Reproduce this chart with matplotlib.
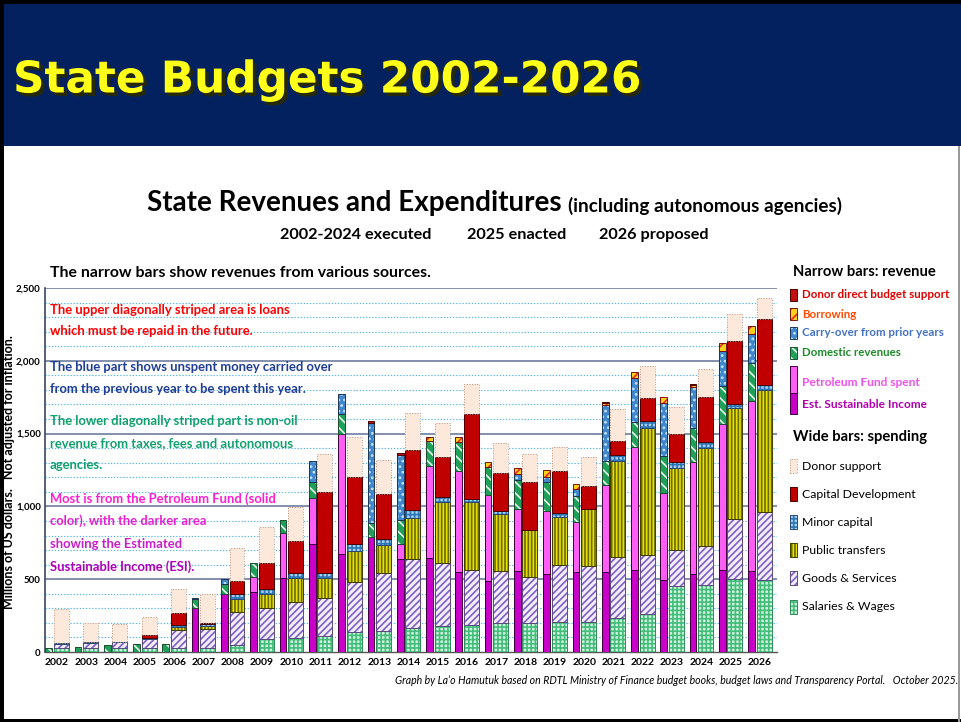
import numpy as np
import matplotlib
matplotlib.use('Agg')
import matplotlib.pyplot as plt
from matplotlib.patches import Rectangle
import matplotlib.patheffects as pe

# ---------------- data (millions of US$) ----------------
years = list(range(2002, 2027))

# narrow bars: revenue (bottom -> top)
esi = [0, 0, 0, 0, 0, 300, 398, 412, 506, 742, 673, 792, 637, 643, 550, 488, 559, 536, 547, 552, 563, 495, 534, 563, 556]
pf_spent = [0, 0, 0, 0, 0, 0, 0, 101, 309, 314, 822, 0, 103, 637, 696, 591, 423, 433, 344, 595, 843, 595, 769, 1001, 1168]
domestic = [25, 37, 46, 57, 53, 64, 69, 96, 92, 110, 138, 97, 165, 170, 199, 194, 200, 201, 183, 165, 176, 257, 234, 263, 259]
carry_over = [0, 0, 0, 0, 0, 6, 34, 0, 0, 146, 137, 687, 448, 0, 0, 0, 39, 35, 44, 385, 298, 361, 281, 243, 199]
borrowing = [0, 0, 0, 0, 0, 0, 0, 0, 0, 0, 0, 0, 0, 29, 34, 30, 43, 45, 36, 12, 41, 42, 14, 55, 60]
donor_direct = [0, 0, 0, 0, 0, 0, 0, 0, 0, 0, 0, 13, 16, 0, 0, 0, 0, 0, 0, 8, 0, 0, 7, 0, 0]

# wide bars: spending (bottom -> top)
salaries = [25, 27, 27, 27, 30, 30, 48, 89, 94, 112, 135, 144, 167, 179, 185, 197, 197, 204, 208, 231, 259, 453, 458, 502, 495]
goods_services = [30, 37, 42, 62, 121, 126, 224, 216, 247, 257, 344, 396, 470, 430, 378, 362, 321, 391, 383, 424, 410, 248, 273, 412, 465]
public_transfers = [0, 0, 0, 0, 18, 22, 90, 93, 167, 142, 217, 195, 286, 424, 465, 389, 320, 335, 389, 657, 872, 561, 673, 760, 840]
minor_capital = [7, 4, 3, 7, 14, 12, 36, 35, 37, 29, 44, 39, 52, 30, 23, 18, 0, 27, 0, 41, 44, 46, 41, 27, 32]
capital_dev = [0, 0, 0, 21, 83, 11, 92, 176, 220, 557, 460, 311, 413, 279, 584, 261, 330, 286, 160, 99, 160, 190, 309, 436, 458]
donor_support = [231, 133, 120, 121, 167, 197, 222, 247, 229, 263, 279, 234, 256, 229, 206, 207, 192, 168, 197, 215, 222, 187, 188, 183, 140]

y_ticks = [0, 500, 1000, 1500, 2000, 2500]
y_tick_labels = ['0', '500', '1,000', '1,500', '2,000', '2,500']

# ---------------- styles ----------------
FONT = ['Lato', 'DejaVu Sans']
plt.rcParams['font.family'] = FONT
plt.rcParams['hatch.linewidth'] = 1.2

ST = {
    'esi': dict(face='#C800C8', hatch=None, hc='none', edge='#3a003a'),
    'pf': dict(face='#FF5EF5', hatch=None, hc='none', edge='#3a003a'),
    'dom': dict(face='#1F9F58', hatch='\\\\\\', hc='#E6F7EC', edge='#1d4d30'),
    'carry': dict(face='#3F86CC', hatch='...', hc='#BFE3FA', edge='#1d3550'),
    'borrow': dict(face='#FFD21A', hatch='///', hc='#E52A1E', edge='#7a1010'),
    'ddbs': dict(face='#C01010', hatch=None, hc='none', edge='#500000'),
    'sal': dict(face='#D4F3E2', hatch='++++', hc='#45BE7C', edge='#2f8a58'),
    'gs': dict(face='#F2EEFB', hatch='/////', hc='#7F5FC5', edge='#5a4a80'),
    'pt': dict(face='#E8E000', hatch='|||||', hc='#6B6B00', edge='#3d3d00'),
    'mc': dict(face='#A9D1F2', hatch='++++', hc='#2E75B6', edge='#2a4a70'),
    'cd': dict(face='#C00000', hatch=None, hc='none', edge='#4d0000'),
    'ds': dict(face='#FDE9DC', hatch=None, hc='none', edge='#B89A88', ls=':'),
}

W, H = 961, 722
fig = plt.figure(figsize=(W / 100, H / 100), dpi=100)
fig.patch.set_facecolor('white')


def fx(x):
    return x / W


def fy(y):
    return 1 - y / H


# ---------------- banner / frame ----------------
fig.add_artist(Rectangle((0, fy(146)), 1, 146 / H, transform=fig.transFigure,
                         facecolor='#03215E', edgecolor='none', zorder=0))
fig.add_artist(Rectangle((0, fy(4)), 1, 4 / H, transform=fig.transFigure,
                         facecolor='black', edgecolor='none', zorder=1))
fig.add_artist(Rectangle((0, 0), 4 / W, 1, transform=fig.transFigure,
                         facecolor='black', edgecolor='none', zorder=1))
fig.add_artist(Rectangle((0, 0), 1, 3 / H, transform=fig.transFigure,
                         facecolor='black', edgecolor='none', zorder=1))
fig.add_artist(Rectangle((fx(958), 0), 1.5 / W, fy(146), transform=fig.transFigure,
                         facecolor='#9a9a9a', edgecolor='none', zorder=1))

fig.text(fx(13), fy(80), 'State Budgets 2002-2026', color='#FFFF1A', fontsize=31.5,
         fontweight='bold', family=['DejaVu Sans'], va='center', ha='left',
         path_effects=[pe.SimplePatchShadow(offset=(2.5, -2.5), shadow_rgbFace='#2b2b00', alpha=0.9),
                       pe.Normal()])

fig.text(fx(147), fy(203), 'State Revenues and Expenditures', fontsize=20, fontweight='bold',
         va='center', ha='left')
fig.text(fx(568), fy(206), '(including autonomous agencies)', fontsize=13.6, fontweight='bold',
         va='center', ha='left')
fig.text(fx(356), fy(235), '2002-2024 executed', fontsize=11.7, fontweight='bold', va='center', ha='center')
fig.text(fx(517), fy(235), '2025 enacted', fontsize=11.7, fontweight='bold', va='center', ha='center')
fig.text(fx(654), fy(235), '2026 proposed', fontsize=11.7, fontweight='bold', va='center', ha='center')

fig.text(fx(50), fy(273), 'The narrow bars show revenues from various sources.', fontsize=11.4,
         fontweight='bold', va='center', ha='left')

# ---------------- axes ----------------
ax = fig.add_axes([fx(45), fy(652), fx(777) - fx(45), (652 - 288) / H])
ax.set_facecolor('white')
ax.set_xlim(2001.59, 2026.58)
ax.set_ylim(0, 2500)

for v in range(100, 2501, 100):
    if v % 500:
        ax.axhline(v, color='#55B7EA', lw=0.8, ls=(0, (1.2, 1.6)), zorder=1)
    else:
        ax.axhline(v, color='#6E7C9E', lw=1.2, zorder=1)

xs = np.array(years, float)
x_narrow = xs - 0.285
x_wide = xs + 0.145


def stack(xc, width, series, keys):
    bottom = np.zeros(len(xc))
    for vals, k in zip(series, keys):
        st = ST[k]
        v = np.array(vals, float)
        m = v > 0
        ax.bar(xc[m], v[m], width, bottom=bottom[m], color=st['face'], edgecolor=st['hc'],
               hatch=st['hatch'], linewidth=0, zorder=3)
        ax.bar(xc[m], v[m], width, bottom=bottom[m], fill=False, edgecolor=st['edge'],
               linewidth=0.7, linestyle=st.get('ls', '-'), zorder=4)
        bottom += v


stack(x_narrow, 0.23, [esi, pf_spent, domestic, carry_over, borrowing, donor_direct],
      ['esi', 'pf', 'dom', 'carry', 'borrow', 'ddbs'])
stack(x_wide, 0.51, [salaries, goods_services, public_transfers, minor_capital, capital_dev, donor_support],
      ['sal', 'gs', 'pt', 'mc', 'cd', 'ds'])

for s in ['top', 'right']:
    ax.spines[s].set_visible(False)
ax.spines['left'].set_color('#3c4660')
ax.spines['left'].set_linewidth(1.2)
ax.spines['bottom'].set_color('#555555')
ax.spines['bottom'].set_linewidth(1.0)
ax.set_yticks(y_ticks)
ax.set_yticklabels(y_tick_labels, fontsize=7, fontweight='bold')
ax.set_xticks(xs)
ax.set_xticklabels([str(y) for y in years], fontsize=7.5, fontweight='bold')
ax.tick_params(axis='x', length=0, pad=4)
ax.tick_params(axis='y', length=0, pad=3)

fig.text(fx(9), fy(472), 'Millions of US dollars.   Not adjusted for inflation.', rotation=90,
         fontsize=9, fontweight='bold', va='center', ha='center')

# ---------------- annotations ----------------
notes = [
    (310, 'The upper diagonally striped area is loans', '#FF0000'),
    (331, 'which must be repaid in the future.', '#FF0000'),
    (367, 'The blue part shows unspent money carried over', '#1F3D96'),
    (389, 'from the previous year to be spent this year.', '#1F3D96'),
    (421, 'The lower diagonally striped part is non-oil', '#12A06C'),
    (443, 'revenue from taxes, fees and autonomous', '#12A06C'),
    (465, 'agencies.', '#12A06C'),
    (499, 'Most is from the Petroleum Fund (solid', '#FF1ED2'),
    (521, 'color), with the darker area', '#E81ED2'),
    (544, 'showing the Estimated', '#C81ECB'),
    (567, 'Sustainable Income (ESI).', '#B000B8'),
]
for y, t, c in notes:
    fig.text(fx(50), fy(y), t, color=c, fontsize=9.4, fontweight='bold', va='center', ha='left')

# ---------------- legend ----------------
fig.text(fx(793), fy(272), 'Narrow bars: revenue', fontsize=10.6, fontweight='bold', va='center', ha='left')
fig.text(fx(793), fy(437), 'Wide bars: spending', fontsize=10.6, fontweight='bold', va='center', ha='left')


def legend_patch(y0, y1, key):
    st = ST[key]
    fig.add_artist(Rectangle((fx(790), fy(y1)), 7 / W, (y1 - y0) / H, transform=fig.transFigure,
                             facecolor=st['face'], edgecolor=st['hc'], hatch=st['hatch'], linewidth=0))
    fig.add_artist(Rectangle((fx(790), fy(y1)), 7 / W, (y1 - y0) / H, transform=fig.transFigure,
                             fill=False, edgecolor=st['edge'], linewidth=0.7, linestyle=st.get('ls', '-')))


rev_items = [
    (295, 'Donor direct budget support', '#E00000', 'ddbs'),
    (314, 'Borrowing', '#FF4A00', 'borrow'),
    (333, 'Carry-over from prior years', '#4472C4', 'carry'),
    (353, 'Domestic revenues', '#1E8B2A', 'dom'),
]
for y, t, c, k in rev_items:
    legend_patch(y - 6, y + 6, k)
    fig.text(fx(802), fy(y), t, color=c, fontsize=8.3, fontweight='bold', va='center', ha='left')

legend_patch(366, 393, 'pf')
legend_patch(393, 414, 'esi')
fig.text(fx(802), fy(382), 'Petroleum Fund spent', color='#F050F0', fontsize=8.6, fontweight='bold',
         va='center', ha='left')
fig.text(fx(802), fy(404), 'Est. Sustainable Income', color='#B000B0', fontsize=8.6, fontweight='bold',
         va='center', ha='left')

sp_items = [
    (466, 'Donor support', 'ds'),
    (494, 'Capital Development', 'cd'),
    (522, 'Minor capital', 'mc'),
    (550, 'Public transfers', 'pt'),
    (578, 'Goods & Services', 'gs'),
    (607, 'Salaries & Wages', 'sal'),
]
for y, t, k in sp_items:
    legend_patch(y - 7, y + 7, k)
    fig.text(fx(802), fy(y), t, color='black', fontsize=8.8, va='center', ha='left')

fig.text(fx(958), fy(680),
         "Graph by La\u2019o Hamutuk based on RDTL Ministry of Finance budget books, budget laws and Transparency Portal.   October 2025.",
         fontsize=7.6, style='italic', va='center', ha='right')

fig.savefig('out.png', dpi=100)
